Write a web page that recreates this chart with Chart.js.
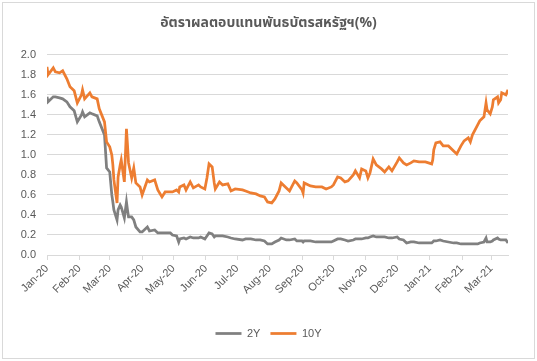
<!DOCTYPE html>
<html lang="th">
<head>
<meta charset="utf-8">
<script src="https://cdn.jsdelivr.net/npm/chart.js@4.4.1/dist/chart.umd.min.js"></script>
<style>
    body { margin: 0; background: #fff; }
    canvas { display: block; }
</style>
</head>
<body>
<canvas id="graficoRendimentos" width="537" height="361"></canvas>
<script>
const datas = [
    '2020-01-02', '2020-01-03', '2020-01-08', '2020-01-10', '2020-01-14', '2020-01-17', '2020-01-21', '2020-01-24', '2020-01-28', '2020-01-31',
    '2020-02-04', '2020-02-05', '2020-02-07', '2020-02-12', '2020-02-14', '2020-02-19', '2020-02-21', '2020-02-26', '2020-02-28',
    '2020-03-02', '2020-03-04', '2020-03-05', '2020-03-06', '2020-03-09', '2020-03-10', '2020-03-12', '2020-03-13', '2020-03-16', '2020-03-18',
    '2020-03-19', '2020-03-20', '2020-03-23', '2020-03-25', '2020-03-27', '2020-03-31',
    '2020-04-02', '2020-04-07', '2020-04-09', '2020-04-14', '2020-04-17', '2020-04-21', '2020-04-24', '2020-04-29',
    '2020-05-01', '2020-05-05', '2020-05-07', '2020-05-08', '2020-05-12', '2020-05-14', '2020-05-18', '2020-05-21', '2020-05-26', '2020-05-28',
    '2020-06-01', '2020-06-03', '2020-06-05', '2020-06-08', '2020-06-10', '2020-06-11', '2020-06-15', '2020-06-18', '2020-06-23', '2020-06-26', '2020-06-30',
    '2020-07-07', '2020-07-10', '2020-07-15', '2020-07-20', '2020-07-24', '2020-07-28', '2020-07-31',
    '2020-08-04', '2020-08-07', '2020-08-11', '2020-08-13', '2020-08-18', '2020-08-21', '2020-08-26', '2020-08-28',
    '2020-09-02', '2020-09-03', '2020-09-04', '2020-09-10', '2020-09-15', '2020-09-21', '2020-09-25', '2020-09-30',
    '2020-10-02', '2020-10-06', '2020-10-09', '2020-10-13', '2020-10-16', '2020-10-21', '2020-10-23', '2020-10-27', '2020-10-29',
    '2020-11-02', '2020-11-04', '2020-11-06', '2020-11-09', '2020-11-12', '2020-11-17', '2020-11-20', '2020-11-24', '2020-11-27',
    '2020-12-02', '2020-12-04', '2020-12-08', '2020-12-11', '2020-12-15', '2020-12-18', '2020-12-23', '2020-12-29',
    '2021-01-04', '2021-01-05', '2021-01-06', '2021-01-08', '2021-01-12', '2021-01-15', '2021-01-20', '2021-01-25', '2021-01-28',
    '2021-02-01', '2021-02-04', '2021-02-08', '2021-02-10', '2021-02-12', '2021-02-17', '2021-02-19', '2021-02-23', '2021-02-25', '2021-02-26',
    '2021-03-01', '2021-03-03', '2021-03-04', '2021-03-08', '2021-03-09', '2021-03-11', '2021-03-12', '2021-03-16', '2021-03-18'
];

const rendimento2Y = [
    1.58, 1.53, 1.58, 1.58, 1.57, 1.56, 1.53, 1.48, 1.44, 1.33,
    1.40, 1.43, 1.38, 1.42, 1.41, 1.39, 1.33, 1.20, 0.87,
    0.83, 0.60, 0.53, 0.45, 0.35, 0.45, 0.50, 0.48, 0.37, 0.53,
    0.45, 0.38, 0.38, 0.35, 0.28, 0.23,
    0.23, 0.28, 0.24, 0.25, 0.22, 0.22, 0.22, 0.22,
    0.20, 0.19, 0.13, 0.16, 0.17, 0.16, 0.18, 0.17, 0.17, 0.18,
    0.16, 0.19, 0.22, 0.21, 0.18, 0.19, 0.19, 0.19, 0.18, 0.17, 0.16,
    0.15, 0.16, 0.16, 0.15, 0.15, 0.14, 0.11,
    0.11, 0.13, 0.15, 0.17, 0.15, 0.15, 0.16, 0.14,
    0.14, 0.13, 0.14, 0.14, 0.13, 0.13, 0.13, 0.13,
    0.14, 0.16, 0.16, 0.15, 0.14, 0.15, 0.16, 0.16, 0.16,
    0.17, 0.17, 0.18, 0.19, 0.18, 0.18, 0.18, 0.17, 0.17,
    0.18, 0.16, 0.15, 0.12, 0.13, 0.13, 0.12, 0.12,
    0.12, 0.13, 0.14, 0.14, 0.15, 0.14, 0.13, 0.12, 0.12,
    0.11, 0.11, 0.11, 0.11, 0.11, 0.11, 0.12, 0.13, 0.17, 0.13,
    0.13, 0.14, 0.15, 0.17, 0.16, 0.15, 0.15, 0.15, 0.12
];

const rendimento10Y = [
    1.88, 1.80, 1.87, 1.83, 1.82, 1.84, 1.76, 1.68, 1.64, 1.52,
    1.60, 1.65, 1.56, 1.62, 1.58, 1.56, 1.46, 1.33, 1.13,
    1.08, 1.00, 0.90, 0.75, 0.52, 0.78, 0.90, 0.95, 0.73, 1.26,
    1.10, 0.92, 0.77, 0.87, 0.72, 0.68,
    0.60, 0.75, 0.73, 0.75, 0.65, 0.58, 0.63, 0.63,
    0.63, 0.65, 0.63, 0.68, 0.70, 0.65, 0.73, 0.67, 0.70, 0.68,
    0.66, 0.77, 0.91, 0.88, 0.72, 0.66, 0.73, 0.70, 0.71, 0.64, 0.66,
    0.65, 0.64, 0.62, 0.61, 0.59, 0.58, 0.53,
    0.52, 0.56, 0.64, 0.72, 0.67, 0.64, 0.74, 0.72,
    0.65, 0.62, 0.72, 0.69, 0.68, 0.68, 0.66, 0.68,
    0.70, 0.78, 0.77, 0.73, 0.74, 0.80, 0.84, 0.77, 0.86,
    0.84, 0.77, 0.82, 0.96, 0.90, 0.86, 0.83, 0.88, 0.84,
    0.93, 0.97, 0.92, 0.90, 0.92, 0.94, 0.93, 0.93,
    0.91, 0.95, 1.05, 1.12, 1.13, 1.09, 1.09, 1.04, 1.01,
    1.09, 1.14, 1.17, 1.13, 1.20, 1.30, 1.34, 1.38, 1.52, 1.45,
    1.41, 1.48, 1.55, 1.58, 1.52, 1.55, 1.62, 1.60, 1.65
];

const rotulosMeses = ['Jan-20', 'Feb-20', 'Mar-20', 'Apr-20', 'May-20', 'Jun-20', 'Jul-20', 'Aug-20',
    'Sep-20', 'Oct-20', 'Nov-20', 'Dec-20', 'Jan-21', 'Feb-21', 'Mar-21'];

const titulo = 'อัตราผลตอบแทนพันธบัตรสหรัฐฯ(%)';

// dias desde 1 jan 2020
function dia(texto) {
    const [a, m, d] = texto.split('-').map(Number);
    return (Date.UTC(a, m - 1, d) - Date.UTC(2020, 0, 1)) / 86400000;
}

function montarPontos(valores) {
    return valores.map((v, i) => ({ x: dia(datas[i]), y: v }));
}

const moldura = {
    id: 'moldura',
    beforeDraw(chart) {
        const ctx = chart.ctx;
        ctx.save();
        ctx.fillStyle = '#ffffff';
        ctx.fillRect(0, 0, chart.width, chart.height);
        ctx.strokeStyle = '#d9d9d9';
        ctx.lineWidth = 1;
        ctx.strokeRect(2.5, 2.5, chart.width - 5, chart.height - 5);
        ctx.restore();
    }
};

function criarGrafico() {
    const ctx = document.getElementById('graficoRendimentos').getContext('2d');
    const cinza = '#595959';
    const fonte = "'Liberation Sans', 'Noto Sans', sans-serif";
    const inicio = dia(datas[0]);

    new Chart(ctx, {
        type: 'line',
        data: {
            datasets: [{
                label: '2Y',
                data: montarPontos(rendimento2Y),
                borderColor: '#808080',
                backgroundColor: '#808080',
                borderWidth: 2.75,
                pointRadius: 0,
                tension: 0,
                order: 1
            }, {
                label: '10Y',
                data: montarPontos(rendimento10Y),
                borderColor: '#ed7d31',
                backgroundColor: '#ed7d31',
                borderWidth: 2.75,
                pointRadius: 0,
                tension: 0,
                order: 0
            }]
        },
        options: {
            responsive: false,
            animation: false,
            layout: { padding: { left: 0, right: 0, top: 0, bottom: 12 } },
            plugins: {
                title: {
                    display: true,
                    text: titulo,
                    color: cinza,
                    font: { size: 14, weight: 'bold', family: "'Noto Sans Thai', 'Tahoma', 'Noto Sans', 'DejaVu Sans', sans-serif" },
                    padding: { top: 16, bottom: 22 }
                },
                legend: {
                    position: 'bottom',
                    labels: {
                        usePointStyle: true,
                        pointStyle: 'line',
                        pointStyleWidth: 26,
                        color: cinza,
                        font: { size: 11, family: fonte },
                        padding: 10,
                        sort: (a, b) => a.datasetIndex - b.datasetIndex
                    }
                },
                tooltip: { enabled: false }
            },
            scales: {
                x: {
                    type: 'linear',
                    min: inicio,
                    max: dia(datas[datas.length - 1]),
                    afterBuildTicks: scale => {
                        scale.ticks = rotulosMeses.map((r, i) => ({
                            value: (Date.UTC(2020, i, 2) - Date.UTC(2020, 0, 1)) / 86400000
                        }));
                    },
                    afterFit: scale => { scale.height = 63; },
                    ticks: {
                        autoSkip: false,
                        minRotation: 45,
                        maxRotation: 45,
                        padding: 2,
                        color: cinza,
                        font: { size: 11, family: fonte },
                        callback: (v, i) => rotulosMeses[i]
                    },
                    grid: { drawOnChartArea: false, drawTicks: true, tickLength: 5, color: '#d9d9d9' },
                    border: { color: '#d9d9d9' }
                },
                y: {
                    min: 0,
                    max: 2,
                    afterFit: scale => { scale.width = 47; },
                    ticks: {
                        stepSize: 0.2,
                        padding: 11,
                        color: cinza,
                        font: { size: 11, family: fonte },
                        callback: v => v.toFixed(1)
                    },
                    grid: { color: '#d9d9d9', drawTicks: false },
                    border: { display: false }
                },
                // eixo vazio so para deixar a margem da direita
                margem: {
                    type: 'linear',
                    position: 'right',
                    min: 0,
                    max: 2,
                    afterFit: scale => { scale.width = 29; },
                    ticks: { display: false },
                    grid: { display: false, drawTicks: false },
                    border: { display: false }
                }
            }
        },
        plugins: [moldura]
    });
}

window.addEventListener('DOMContentLoaded', criarGrafico);
</script>
</body>
</html>
